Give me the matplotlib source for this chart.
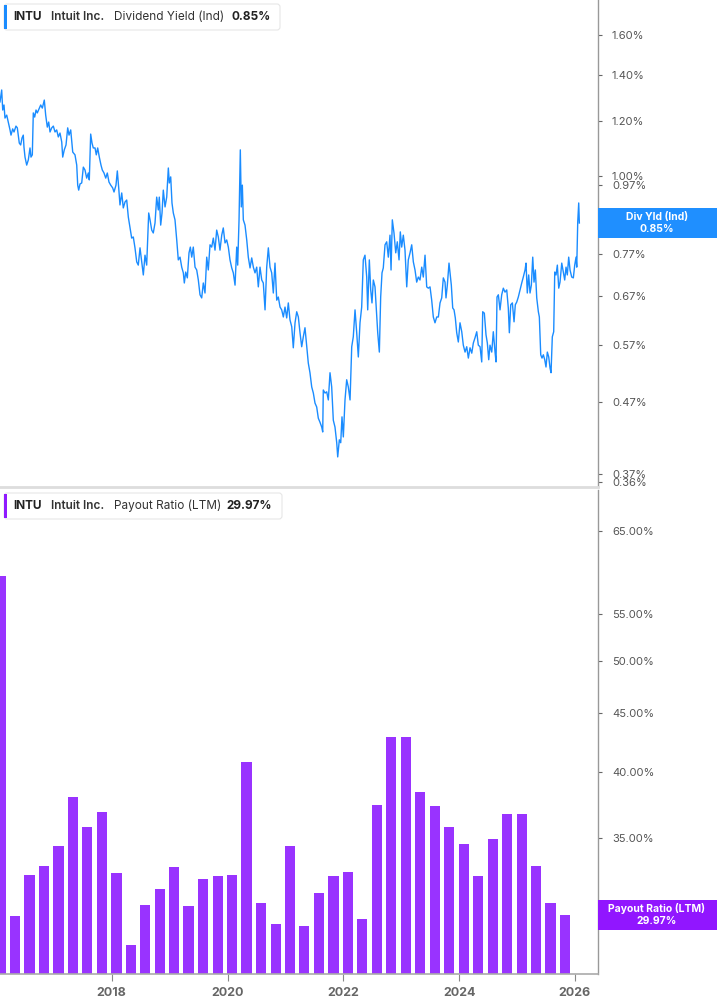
import matplotlib.pyplot as plt
import pandas as pd
from matplotlib.patches import FancyBboxPatch, Rectangle
from matplotlib.ticker import NullLocator, FixedLocator
from matplotlib.transforms import IdentityTransform

plt.rcParams['font.family'] = ['Inter', 'DejaVu Sans']

# Dividend yield (ind), % (decimal year, value)
yield_years = [
    2016.071, 2016.100, 2016.118, 2016.140, 2016.157, 2016.187, 2016.214, 2016.244, 2016.261, 2016.290,
    2016.313, 2016.347, 2016.370, 2016.387, 2016.404, 2016.428, 2016.451, 2016.473, 2016.485, 2016.503,
    2016.532, 2016.560, 2016.589, 2016.606, 2016.629, 2016.646, 2016.670, 2016.693, 2016.715, 2016.750,
    2016.774, 2016.802, 2016.836, 2016.860, 2016.888, 2016.912, 2016.935, 2016.964, 2016.992, 2017.021,
    2017.050, 2017.078, 2017.107, 2017.137, 2017.154, 2017.181, 2017.211, 2017.240, 2017.263, 2017.292,
    2017.327, 2017.366, 2017.396, 2017.413, 2017.430, 2017.453, 2017.482, 2017.510, 2017.539, 2017.568,
    2017.596, 2017.613, 2017.637, 2017.660, 2017.682, 2017.712, 2017.734, 2017.758, 2017.786, 2017.815,
    2017.838, 2017.867, 2017.897, 2017.924, 2017.953, 2017.983, 2018.017, 2018.040, 2018.074, 2018.097,
    2018.121, 2018.143, 2018.173, 2018.200, 2018.230, 2018.259, 2018.287, 2018.316, 2018.345, 2018.373,
    2018.402, 2018.432, 2018.459, 2018.489, 2018.518, 2018.546, 2018.575, 2018.604, 2018.639, 2018.662,
    2018.691, 2018.718, 2018.748, 2018.777, 2018.805, 2018.822, 2018.846, 2018.869, 2018.891, 2018.921,
    2018.950, 2018.978, 2018.995, 2019.019, 2019.041, 2019.064, 2019.093, 2019.123, 2019.150, 2019.180,
    2019.209, 2019.237, 2019.254, 2019.278, 2019.306, 2019.335, 2019.358, 2019.382, 2019.409, 2019.439,
    2019.468, 2019.496, 2019.525, 2019.554, 2019.582, 2019.611, 2019.641, 2019.668, 2019.698, 2019.727,
    2019.755, 2019.784, 2019.813, 2019.841, 2019.870, 2019.900, 2019.927, 2019.957, 2019.986, 2020.014,
    2020.043, 2020.073, 2020.100, 2020.130, 2020.159, 2020.176, 2020.199, 2020.221, 2020.238, 2020.256,
    2020.273, 2020.302, 2020.332, 2020.359, 2020.389, 2020.418, 2020.446, 2020.475, 2020.504, 2020.532,
    2020.561, 2020.591, 2020.618, 2020.648, 2020.677, 2020.705, 2020.734, 2020.763, 2020.791, 2020.820,
    2020.850, 2020.877, 2020.907, 2020.936, 2020.964, 2020.993, 2021.022, 2021.050, 2021.079, 2021.109,
    2021.136, 2021.166, 2021.195, 2021.223, 2021.252, 2021.281, 2021.309, 2021.338, 2021.368, 2021.395,
    2021.424, 2021.454, 2021.482, 2021.511, 2021.540, 2021.568, 2021.597, 2021.627, 2021.644, 2021.654,
    2021.684, 2021.713, 2021.741, 2021.770, 2021.799, 2021.827, 2021.856, 2021.886, 2021.903, 2021.931,
    2021.955, 2021.977, 2022.000, 2022.029, 2022.058, 2022.086, 2022.116, 2022.145, 2022.172, 2022.202,
    2022.231, 2022.259, 2022.288, 2022.317, 2022.345, 2022.374, 2022.404, 2022.421, 2022.449, 2022.473,
    2022.495, 2022.518, 2022.547, 2022.577, 2022.594, 2022.622, 2022.645, 2022.668, 2022.690, 2022.720,
    2022.749, 2022.777, 2022.806, 2022.824, 2022.846, 2022.875, 2022.905, 2022.932, 2022.962, 2022.984,
    2023.008, 2023.036, 2023.065, 2023.095, 2023.122, 2023.152, 2023.181, 2023.209, 2023.238, 2023.267,
    2023.295, 2023.324, 2023.354, 2023.381, 2023.411, 2023.440, 2023.468, 2023.497, 2023.526, 2023.554,
    2023.583, 2023.613, 2023.641, 2023.670, 2023.699, 2023.727, 2023.756, 2023.773, 2023.796, 2023.825,
    2023.843, 2023.865, 2023.889, 2023.912, 2023.934, 2023.958, 2023.986, 2024.015, 2024.045, 2024.072,
    2024.102, 2024.131, 2024.159, 2024.188, 2024.218, 2024.245, 2024.274, 2024.304, 2024.331, 2024.361,
    2024.390, 2024.407, 2024.435, 2024.464, 2024.487, 2024.511, 2024.533, 2024.563, 2024.590, 2024.620,
    2024.637, 2024.654, 2024.677, 2024.706, 2024.735, 2024.763, 2024.792, 2024.822, 2024.849, 2024.867,
    2024.891, 2024.919, 2024.948, 2024.970, 2024.995, 2025.022, 2025.051, 2025.081, 2025.108, 2025.138,
    2025.155, 2025.177, 2025.201, 2025.224, 2025.247, 2025.271, 2025.293, 2025.316, 2025.340, 2025.368,
    2025.385, 2025.409, 2025.431, 2025.454, 2025.478, 2025.500, 2025.523, 2025.547, 2025.570, 2025.587,
    2025.609, 2025.633, 2025.651, 2025.673, 2025.696, 2025.720, 2025.742, 2025.772, 2025.799, 2025.823,
    2025.846, 2025.868, 2025.892, 2025.915, 2025.944, 2025.972, 2025.996, 2026.019, 2026.031, 2026.048,
    2026.065, 2026.076,
]
yield_values = [
    1.280, 1.332, 1.246, 1.267, 1.213, 1.225, 1.197, 1.166, 1.146, 1.170,
    1.158, 1.181, 1.174, 1.146, 1.116, 1.109, 1.135, 1.146, 1.101, 1.065,
    1.037, 1.055, 1.098, 1.065, 1.073, 1.234, 1.217, 1.246, 1.234, 1.254,
    1.267, 1.254, 1.288, 1.225, 1.177, 1.197, 1.158, 1.174, 1.181, 1.158,
    1.166, 1.139, 1.154, 1.120, 1.065, 1.091, 1.109, 1.174, 1.146, 1.166,
    1.083, 1.073, 1.037, 0.970, 0.954, 0.974, 0.977, 1.030, 1.020, 0.993,
    1.010, 0.987, 1.150, 1.116, 1.098, 1.098, 1.073, 1.098, 1.065, 1.037,
    1.020, 1.010, 0.993, 1.010, 0.980, 0.970, 0.961, 0.948, 0.970, 1.017,
    0.961, 0.908, 0.945, 0.899, 0.917, 0.923, 0.872, 0.841, 0.813, 0.816,
    0.787, 0.751, 0.743, 0.787, 0.751, 0.719, 0.768, 0.743, 0.884, 0.864,
    0.835, 0.827, 0.855, 0.932, 0.893, 0.932, 0.849, 0.884, 0.954, 0.902,
    0.932, 1.027, 0.977, 0.997, 0.914, 0.884, 0.864, 0.808, 0.756, 0.763,
    0.738, 0.724, 0.700, 0.726, 0.712, 0.774, 0.789, 0.763, 0.789, 0.738,
    0.731, 0.707, 0.673, 0.666, 0.700, 0.677, 0.763, 0.731, 0.795, 0.789,
    0.813, 0.781, 0.835, 0.816, 0.781, 0.821, 0.841, 0.800, 0.808, 0.789,
    0.756, 0.736, 0.724, 0.695, 0.789, 0.743, 0.864, 1.091, 0.902, 0.970,
    0.864, 0.849, 0.808, 0.763, 0.736, 0.761, 0.738, 0.724, 0.738, 0.691,
    0.738, 0.707, 0.700, 0.640, 0.738, 0.787, 0.738, 0.724, 0.677, 0.748,
    0.661, 0.668, 0.646, 0.640, 0.625, 0.646, 0.623, 0.655, 0.619, 0.605,
    0.564, 0.613, 0.636, 0.625, 0.593, 0.566, 0.585, 0.603, 0.566, 0.536,
    0.519, 0.495, 0.485, 0.469, 0.463, 0.446, 0.440, 0.433, 0.426, 0.490,
    0.485, 0.487, 0.474, 0.519, 0.495, 0.443, 0.433, 0.411, 0.392, 0.415,
    0.411, 0.448, 0.419, 0.474, 0.507, 0.495, 0.474, 0.566, 0.585, 0.640,
    0.593, 0.547, 0.613, 0.646, 0.756, 0.768, 0.714, 0.640, 0.756, 0.684,
    0.655, 0.707, 0.691, 0.625, 0.593, 0.556, 0.668, 0.724, 0.736, 0.795,
    0.803, 0.763, 0.821, 0.731, 0.864, 0.827, 0.774, 0.803, 0.756, 0.830,
    0.789, 0.821, 0.781, 0.691, 0.756, 0.774, 0.795, 0.751, 0.731, 0.702,
    0.714, 0.707, 0.738, 0.714, 0.768, 0.691, 0.688, 0.691, 0.661, 0.625,
    0.613, 0.625, 0.625, 0.655, 0.666, 0.712, 0.702, 0.666, 0.695, 0.748,
    0.724, 0.695, 0.644, 0.640, 0.623, 0.593, 0.575, 0.613, 0.595, 0.569,
    0.556, 0.566, 0.545, 0.564, 0.554, 0.573, 0.583, 0.595, 0.569, 0.566,
    0.538, 0.636, 0.633, 0.589, 0.573, 0.542, 0.569, 0.556, 0.595, 0.556,
    0.538, 0.668, 0.673, 0.640, 0.673, 0.688, 0.679, 0.684, 0.644, 0.593,
    0.651, 0.655, 0.615, 0.651, 0.657, 0.668, 0.684, 0.700, 0.714, 0.731,
    0.748, 0.677, 0.719, 0.677, 0.695, 0.763, 0.702, 0.731, 0.666, 0.636,
    0.625, 0.551, 0.545, 0.551, 0.542, 0.529, 0.556, 0.547, 0.527, 0.519,
    0.585, 0.595, 0.726, 0.719, 0.743, 0.688, 0.702, 0.748, 0.726, 0.707,
    0.738, 0.719, 0.763, 0.731, 0.714, 0.712, 0.743, 0.763, 0.738, 0.858,
    0.914, 0.855,
]

# Payout ratio (LTM), %, one bar per fiscal quarter end
payout_dates = [
    "2016-01-31", "2016-04-30", "2016-07-31", "2016-10-31",
    "2017-01-31", "2017-04-30", "2017-07-31", "2017-10-31",
    "2018-01-31", "2018-04-30", "2018-07-31", "2018-10-31",
    "2019-01-31", "2019-04-30", "2019-07-31", "2019-10-31",
    "2020-01-31", "2020-04-30", "2020-07-31", "2020-10-31",
    "2021-01-31", "2021-04-30", "2021-07-31", "2021-10-31",
    "2022-01-31", "2022-04-30", "2022-07-31", "2022-10-31",
    "2023-01-31", "2023-04-30", "2023-07-31", "2023-10-31",
    "2024-01-31", "2024-04-30", "2024-07-31", "2024-10-31",
    "2025-01-31", "2025-04-30", "2025-07-31", "2025-10-31",
]
payout_values = [
    59.3, 29.9, 32.5, 33.1,
    34.4, 38.0, 35.8, 36.9,
    32.6, 28.2, 30.6, 31.6,
    33.0, 30.5, 32.2, 32.4,
    32.5, 40.8, 30.7, 29.4,
    34.4, 29.3, 31.3, 32.4,
    32.7, 29.7, 37.4, 42.9,
    42.9, 38.4, 37.3, 35.8,
    34.6, 32.4, 34.9, 36.7,
    36.7, 33.1, 30.7, 29.97,
]

yield_ticks = [1.60, 1.40, 1.20, 1.00, 0.97, 0.87, 0.77, 0.67, 0.57, 0.47, 0.37, 0.36]
payout_ticks = [65, 55, 50, 45, 40, 35, 30]
year_ticks = [2018, 2020, 2022, 2024, 2026]

BLUE = '#1a8cff'
PURPLE = '#9933ff'
W, H = 717, 1005


def to_year(d):
    t = pd.Timestamp(d)
    return t.year + (t.dayofyear - 1) / 365.25


def box(x0, y0, x1, y1):
    # pixel box (top-left origin) -> figure fraction rect
    return [x0 / W, 1 - y1 / H, (x1 - x0) / W, (y1 - y0) / H]


fig = plt.figure(figsize=(W / 100, H / 100), dpi=100)
ax1 = fig.add_axes(box(0, 0, 598, 487))
ax2 = fig.add_axes(box(0, 490, 598, 974))

# top panel: dividend yield line
ax1.plot(yield_years, yield_values, color=BLUE, lw=1.0)
ax1.set_yscale('log')
ax1.set_ylim(0.3546, 1.798)

# bottom panel: payout ratio bars
bar_x = [to_year(d) for d in payout_dates]
ax2.bar(bar_x, [v - 20 for v in payout_values], bottom=20, width=0.175,
        color=PURPLE, linewidth=0)
ax2.set_yscale('log')
ax2.set_ylim(26.6, 70.6)

for ax, ticks, fmt in [(ax1, yield_ticks, "{:.2f}%"), (ax2, payout_ticks, "{:.2f}%")]:
    ax.set_xlim(2016.071, 2026.398)
    ax.yaxis.tick_right()
    ax.yaxis.set_major_locator(FixedLocator(ticks))
    ax.yaxis.set_minor_locator(NullLocator())
    ax.set_yticklabels([fmt.format(t) for t in ticks])
    ax.tick_params(axis='y', length=3, width=0.8, color='#666', pad=7,
                   labelsize=8, labelcolor='#555')
    for s in ['left', 'top']:
        ax.spines[s].set_visible(False)
    ax.spines['right'].set_color('#999')
    ax.spines['right'].set_linewidth(1.0)
    ax.set_facecolor('white')

ax1.set_xticks([])
ax1.spines['bottom'].set_color('#dddddd')
ax1.spines['bottom'].set_linewidth(2)

ax2.set_xticks(year_ticks)
ax2.set_xticklabels([str(y) for y in year_ticks], fontweight='bold')
ax2.xaxis.set_minor_locator(NullLocator())
ax2.tick_params(axis='x', length=5, width=0.8, color='#888', pad=4,
                labelsize=9, labelcolor='#666')
ax2.spines['bottom'].set_color('#aaa')
ax2.spines['bottom'].set_linewidth(1.2)

# last-value tags on the right axis
fig.canvas.draw()
ident = IdentityTransform()
for ax, val, name, txt, col in [
    (ax1, yield_values[-1], "Div Yld (Ind)", "0.85%", '#1f8fff'),
    (ax2, payout_values[-1], "Payout Ratio (LTM)", "29.97%", '#9116ff'),
]:
    yd = ax.transData.transform((2020, val))[1]
    fig.add_artist(Rectangle((598, yd - 15), 119, 30, transform=ident,
                             facecolor=col, edgecolor='none', zorder=10))
    fig.text(657 / W, (yd + 6) / H, name, color='white', fontsize=7.5,
             fontweight='bold', ha='center', va='center', zorder=11)
    fig.text(657 / W, (yd - 6) / H, txt, color='white', fontsize=7.5,
             fontweight='bold', ha='center', va='center', zorder=11)

# legend chips at top-left of each panel
for top, accent, label, val, right in [
    (4, BLUE, "Dividend Yield (Ind)", "0.85%", 280),
    (493, '#8f1aff', "Payout Ratio (LTM)", "29.97%", 282),
]:
    fig.add_artist(FancyBboxPatch((4, H - top - 26), right - 4, 26,
                                  boxstyle="round,pad=0,rounding_size=3",
                                  transform=ident, facecolor='white',
                                  edgecolor='#e6e6e6', linewidth=0.8, zorder=10))
    fig.add_artist(Rectangle((4, H - top - 25), 3, 24, transform=ident,
                             facecolor=accent, edgecolor='none', zorder=11))
    yc = (H - top - 13) / H
    fig.text(13 / W, yc, "INTU", fontsize=8.5, fontweight='bold', color='#222',
             va='center', zorder=12)
    fig.text(51 / W, yc, "Intuit Inc.", fontsize=8.5, fontweight='semibold',
             color='#333', va='center', zorder=12)
    fig.text(114 / W, yc, label, fontsize=8.5, color='#333', va='center', zorder=12)
    fig.text((231 if val == "0.85%" else 226) / W, yc, val, fontsize=8.5,
             fontweight='bold', color='#222', va='center', zorder=12)

fig.savefig('out.png', dpi=100)
